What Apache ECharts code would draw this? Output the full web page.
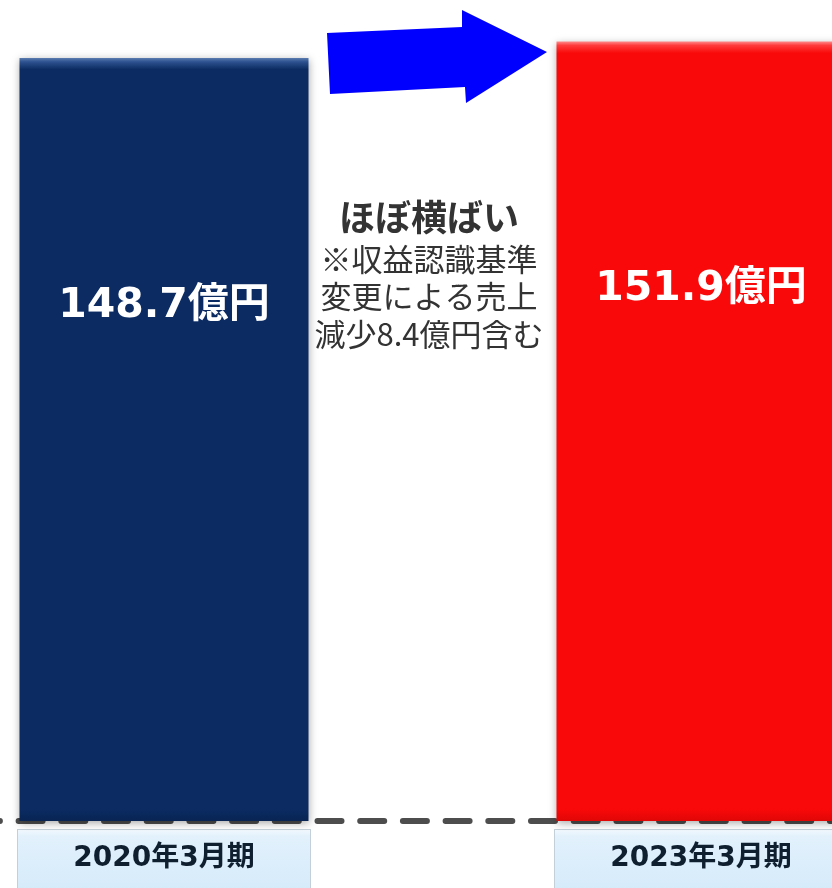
<!DOCTYPE html>
<html>
<head>
<meta charset="utf-8">
<script src="https://cdn.jsdelivr.net/npm/echarts@6/dist/echarts.min.js"></script>
<style>
  html, body { margin: 0; padding: 0; background: #ffffff; }
  #chart { width: 832px; height: 888px; }
</style>
</head>
<body>
<div id="chart"></div>
<script>
// Fiscal periods and sales (億円)
const categories = ['2020年3月期', '2023年3月期'];
const sales = [148.7, 151.9];
const unit = '億円';
const noteTitle = 'ほぼ横ばい';
const noteLines = ['※収益認識基準', '変更による売上', '減少8.4億円含む'];

// bevelled fill: light strip along the top edge, flat body below
function bevel(light, mid, body, bottom) {
  return {
    type: 'linear', x: 0, y: 0, x2: 0, y2: 1,
    colorStops: [
      { offset: 0, color: light },
      { offset: 0.005, color: mid },
      { offset: 0.015, color: body },
      { offset: 0.985, color: body },
      { offset: 1, color: bottom }
    ]
  };
}
const barFills = [
  bevel('#5a7cb0', '#2e5290', '#0b2b62', '#082453'),
  bevel('#ff8a8a', '#ff3a3a', '#f90909', '#e00606')
];

const chart = echarts.init(document.getElementById('chart'), null, { renderer: 'canvas' });

const cjk = '"Noto Sans CJK JP", sans-serif';
const latinCjk = '"DejaVu Sans", "Noto Sans CJK JP", sans-serif';

chart.setOption({
  animation: false,
  backgroundColor: '#ffffff',
  grid: {
    left: -104.5, width: 1074, top: 0, bottom: 67,
    containLabel: false,
    outerBoundsMode: 'none'
  },
  xAxis: {
    type: 'category',
    data: categories,
    offset: 3,
    axisTick: { show: false },
    axisLine: {
      show: true,
      lineStyle: { color: '#4d4d4d', width: 6, type: [24, 18.7], dashOffset: 5 }
    },
    axisLabel: {
      margin: 6,
      interval: 0,
      fontFamily: latinCjk,
      fontWeight: 'bold',
      fontSize: 28,
      color: '#0f1f30',
      width: 292,
      height: 58,
      lineHeight: 58,
      align: 'center',
      borderColor: '#c3d0d9',
      borderWidth: 1,
      backgroundColor: {
        type: 'linear', x: 0, y: 0, x2: 0, y2: 1,
        colorStops: [
          { offset: 0, color: '#f4faff' },
          { offset: 0.12, color: '#e2f1fc' },
          { offset: 1, color: '#d6ebfa' }
        ]
      }
    }
  },
  yAxis: {
    type: 'value',
    min: 0,
    max: 160,
    show: false,
    splitLine: { show: false }
  },
  series: [{
    type: 'bar',
    barWidth: 289,
    data: sales.map((v, i) => ({
      value: v,
      itemStyle: { color: barFills[i] }
    })),
    itemStyle: {
      shadowBlur: 8,
      shadowColor: 'rgba(0,0,0,0.35)',
      shadowOffsetX: 0,
      shadowOffsetY: 2
    },
    label: {
      show: true,
      position: ['50%', 248],
      align: 'center',
      verticalAlign: 'middle',
      formatter: p => p.value + unit,
      fontFamily: latinCjk,
      fontWeight: 'bold',
      fontSize: 41,
      color: '#ffffff'
    }
  }],
  graphic: [
    {
      type: 'polygon',
      z: 100,
      shape: {
        points: [
          [327, 33], [462, 27], [462, 10], [547, 52],
          [466, 103], [465, 87], [330, 94]
        ]
      },
      style: { fill: '#0000ff' }
    },
    {
      type: 'text',
      z: 100,
      x: 429, y: 217,
      style: {
        text: noteTitle,
        fontFamily: cjk,
        fontWeight: 'bold',
        fontSize: 36,
        fill: '#333333',
        align: 'center',
        verticalAlign: 'middle'
      }
    },
    ...noteLines.map((t, i) => ({
      type: 'text',
      z: 100,
      x: 429, y: 259 + i * 37.5,
      style: {
        text: t,
        fontFamily: cjk,
        fontSize: 31,
        fill: '#333333',
        align: 'center',
        verticalAlign: 'middle'
      }
    }))
  ]
});
</script>
</body>
</html>
